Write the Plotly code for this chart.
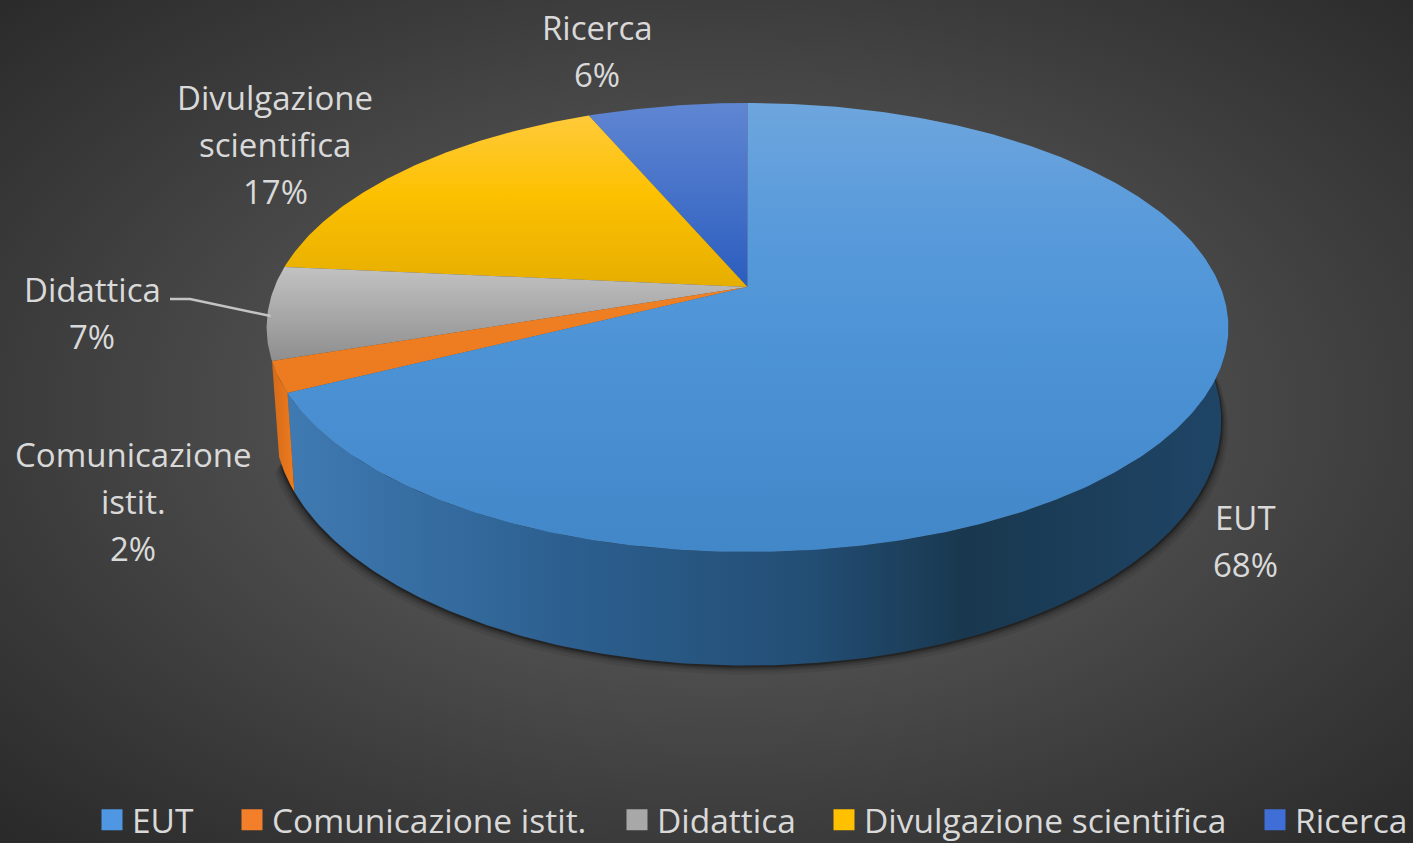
import numpy as np
import plotly.graph_objects as go

categories = ["EUT", "Comunicazione istit.", "Didattica", "Divulgazione scientifica", "Ricerca"]
values = [67.6, 2.2, 6.7, 17.1, 6.4]
label_lines = [["EUT"], ["Comunicazione", "istit."], ["Didattica"], ["Divulgazione", "scientifica"], ["Ricerca"]]

legend_colors = ["#4f97e2", "#f37f2a", "#a8a8a8", "#ffc000", "#3f6fd6"]
# colour ramps run from the lower edge of a face up to its upper edge
top_scales = [
    [[0, "#4287c8"], [0.45, "#4c93d6"], [0.75, "#5a9bdb"], [1, "#6ea6de"]],
    [[0, "#ec7a1e"], [1, "#f08024"]],
    [[0, "#8e8e8e"], [1, "#c2c2c2"]],
    [[0, "#e6ae00"], [0.55, "#fdc102"], [1, "#ffca3a"]],
    [[0, "#2b5dbf"], [1, "#5f86d2"]],
]
side_scale_eut = [[0, "#3f7ab2"], [0.3, "#2c5f8f"], [0.55, "#234e75"], [0.72, "#19384f"], [1, "#1f4567"]]
side_scale_com = [[0, "#d56a17"], [1, "#ee7c20"]]

# Projection of the tilted disc
CX, CY = 747.5, 287.0
K, SY, RX = 0.1804, 217.2, 473.0
EC_Y, E_RY = 327.0, 224.5
BOT_CY, BOT_RY, BOT_SX = 420.0, 245.0, 0.985


def top_pt(theta):
    u, v = np.sin(theta), np.cos(theta)
    w = 1 + K * v
    return CX + RX * u / w, CY - SY * v / w


def bot_pt(theta):
    x, y = top_pt(theta)
    return CX + (x - CX) * BOT_SX, BOT_CY + (y - EC_Y) * BOT_RY / E_RY


def arc(t0, t1, fn, n=None):
    n = n or max(3, int(abs(t1 - t0) * 90))
    return fn(np.linspace(t0, t1, n))


fig = go.Figure()


def poly(x, y, **kw):
    fig.add_trace(go.Scatter(x=list(x), y=list(y), mode="lines", fill="toself", line=dict(width=0),
                             showlegend=False, hoverinfo="skip", **kw))


# background (oversized so the radial ramp reaches the corners; clipped by the axes)
poly([-280, 1720, 1720, -280, -280], [-190, -190, 1010, 1010, -190],
     fillgradient=dict(type="radial",
                       colorscale=[[0, "#5c5c5c"], [0.35, "#525252"], [0.7, "#3c3c3c"], [1, "#2a2a2a"]]))

fractions = np.cumsum([0] + values) / sum(values)
angles = fractions * 2 * np.pi

# soft shadow around the lower rim
tt = np.linspace(np.radians(78), np.radians(250), 200)
bx, by = bot_pt(tt)
for grow, dy, op in [(7, 9, 0.07), (5, 6, 0.10), (3, 4, 0.16), (1.5, 2, 0.3)]:
    sx = CX + (bx - CX) * (1 + grow / 470)
    poly(sx, by + dy, fillcolor=f"rgba(0,0,0,{op})")

# side wall: EUT then Comunicazione
x_t, y_t = arc(np.radians(82), angles[1], top_pt)
x_b, y_b = arc(np.radians(82), angles[1], bot_pt)
poly(np.r_[x_t, x_b[::-1]], np.r_[y_t, y_b[::-1]],
     fillgradient=dict(type="horizontal", colorscale=side_scale_eut))
x_t, y_t = arc(angles[1], angles[2], top_pt)
x_b, y_b = arc(angles[1], angles[2], bot_pt)
poly(np.r_[x_t, x_b[::-1]], np.r_[y_t, y_b[::-1]],
     fillgradient=dict(type="horizontal", colorscale=side_scale_com))

# top faces, painted back to front
for i in [4, 3, 2, 1, 0]:
    x, y = arc(angles[i], angles[i + 1], top_pt)
    poly(np.r_[CX, x, CX], np.r_[CY, y, CY],
         fillgradient=dict(type="vertical", colorscale=top_scales[i]))

# leader line
x_l, y_l = top_pt(np.radians(266))
fig.add_trace(go.Scatter(x=[170, 190, x_l + 1], y=[299, 299, 316], mode="lines",
                         line=dict(color="#c4c4c4", width=2.5), showlegend=False, hoverinfo="skip"))

# legend entries, each one a legend of its own so it can sit at its own place
legend_left = [92, 232, 617, 824, 1255]
legends = {}
FONT = "Open Sans, Noto Sans, sans-serif"
for k, (name, c, lx) in enumerate(zip(categories, legend_colors, legend_left)):
    key = "legend" if k == 0 else f"legend{k + 1}"
    fig.add_trace(go.Scatter(x=[None], y=[None], mode="markers", name=name, legend=key,
                             marker=dict(symbol="square", size=16, color=c, line=dict(width=5, color=c))))
    legends[key] = dict(x=lx / 1413, y=23 / 843, xanchor="left", yanchor="middle", orientation="h",
                        bgcolor="rgba(0,0,0,0)", font=dict(family=FONT, size=33.5, color="#d9d9d9"),
                        itemwidth=30)

# data labels
anchors = [(1245, 517), (133, 454), (92, 289), (275, 97), (597, 27)]
GAP = 47
pct = [f"{round(v / sum(values) * 100)}%" for v in values]
for lines, p, (ax, ay) in zip(label_lines, pct, anchors):
    for j, t in enumerate(lines + [p]):
        fig.add_annotation(x=ax, y=ay + j * GAP, text=t, showarrow=False, xanchor="center", yanchor="middle",
                           font=dict(family=FONT, size=33, color="#d9d9d9"))

fig.update_layout(
    width=1413, height=843, margin=dict(l=0, r=0, t=0, b=0, autoexpand=False),
    paper_bgcolor="#333333", plot_bgcolor="#333333",
    xaxis=dict(range=[0, 1413], visible=False, fixedrange=True),
    yaxis=dict(range=[843, 0], visible=False, fixedrange=True),
    showlegend=True,
    **legends,
)
fig.write_html("out.html", config={"displayModeBar": False},
               post_script="document.body.style.margin='0';document.documentElement.style.overflow='hidden';")
